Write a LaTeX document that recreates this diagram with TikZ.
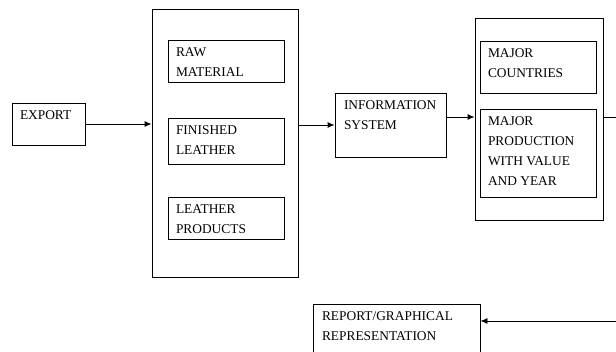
\documentclass[tikz,border=0pt]{standalone}
\usepackage{fontspec}
\setmainfont{Liberation Serif}
\usetikzlibrary{arrows.meta}

\begin{document}
\begin{tikzpicture}[x=1pt, y=-1pt, >={Latex[length=7pt,width=6pt]}, line width=0.9pt,
  box/.style={draw, inner sep=0pt},
  lbl/.style={anchor=north west, inner sep=0pt, align=left, font=\fontsize{13.4}{20}\selectfont}]
\clip (0,0) rectangle (616,352);
% boxes
\node[box, minimum width=73pt, minimum height=42pt] (export) at (48.5,124) {};
\node[box, minimum width=146pt, minimum height=268pt] (leather) at (225,143) {};
\node[box, minimum width=116pt, minimum height=42pt] (raw) at (226,61) {};
\node[box, minimum width=116pt, minimum height=46pt] (finished) at (226,141) {};
\node[box, minimum width=116pt, minimum height=42pt] (products) at (226,218) {};
\node[box, minimum width=111pt, minimum height=64pt] (info) at (390.5,125) {};
\node[box, minimum width=128pt, minimum height=202pt] (market) at (539,119) {};
\node[box, minimum width=116pt, minimum height=52pt] (countries) at (538,67) {};
\node[box, minimum width=116pt, minimum height=88pt] (production) at (538,153) {};
\node[box, minimum width=167pt, minimum height=58pt] (report) at (396.5,333) {};
% texts
\node[lbl] (exporttxt) at ([shift={(8pt,-7.5pt)}]export.north west) {EXPORT};
\node[lbl] (rawtxt) at ([shift={(8pt,-7.5pt)}]raw.north west) {RAW\\MATERIAL};
\node[lbl] (finishedtxt) at ([shift={(8pt,-7.5pt)}]finished.north west) {FINISHED\\LEATHER};
\node[lbl] (productstxt) at ([shift={(8pt,-7.5pt)}]products.north west) {LEATHER\\PRODUCTS};
\node[lbl] (infotxt) at ([shift={(9pt,-7.5pt)}]info.north west) {INFORMATION\\SYSTEM};
\node[lbl] (countriestxt) at ([shift={(8pt,-7.5pt)}]countries.north west) {MAJOR\\COUNTRIES};
\node[lbl] (productiontxt) at ([shift={(8pt,-7.5pt)}]production.north west) {MAJOR\\PRODUCTION\\WITH VALUE\\AND YEAR};
\node[lbl] (reporttxt) at ([shift={(9pt,-7.5pt)}]report.north west) {REPORT/GRAPHICAL\\REPRESENTATION};
% arrows
\coordinate (out) at (616,117);
\coordinate (back) at (616,321);
\draw[->] (export.east) -- (export.east -| leather.west);
\draw[->] (leather.east |- info.west) -- (info.west);
\draw[->] ([yshift=8pt]info.east) -- ([yshift=8pt]info.east -| market.west);
\draw (market.east |- out) -- (out);
\draw[->] (back) -- (back -| report.east);
\end{tikzpicture}
\end{document}
